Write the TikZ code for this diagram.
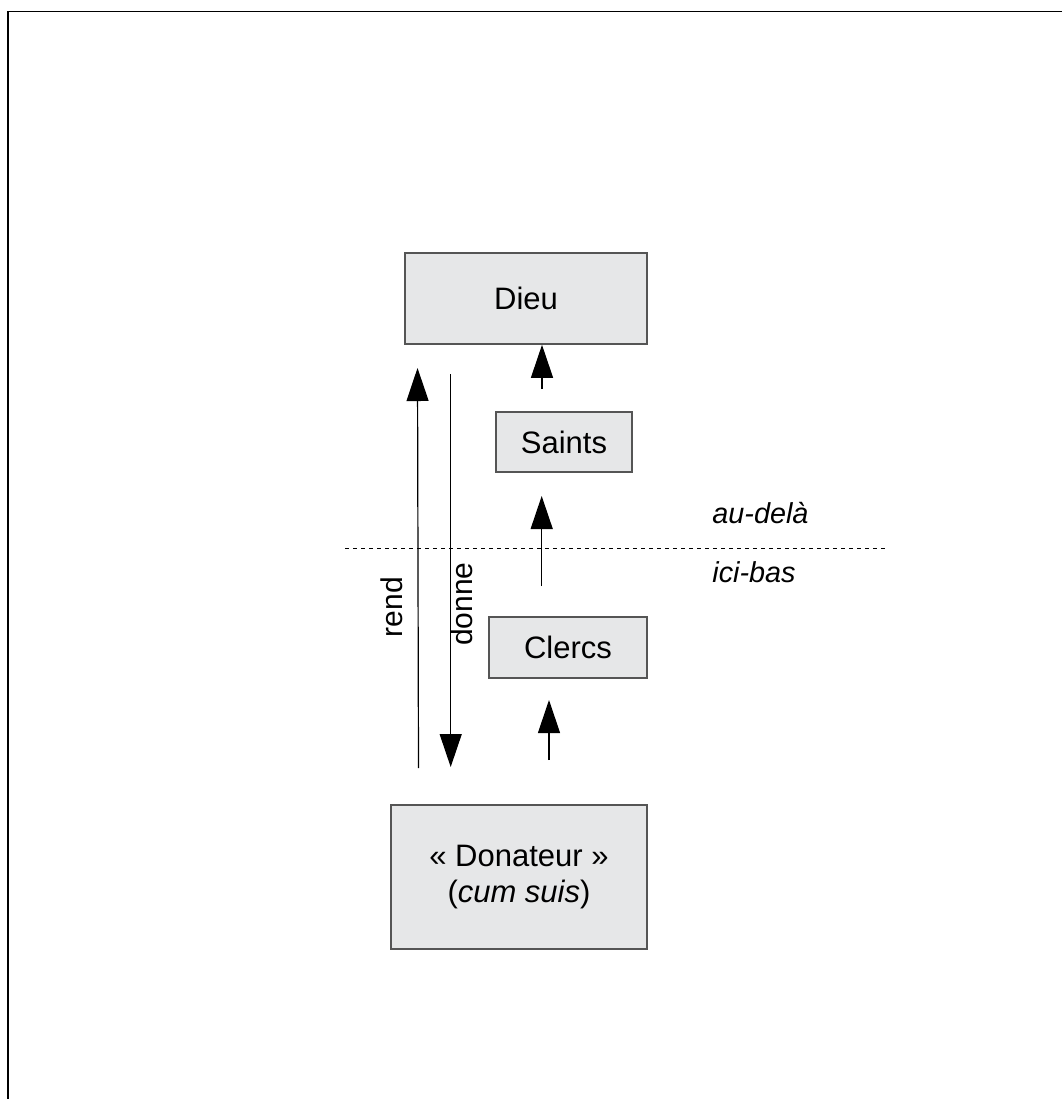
\documentclass[tikz,border=0pt]{standalone}
\usepackage{fontspec}
\setmainfont{Liberation Sans}
\usetikzlibrary{arrows.meta}
\definecolor{boxfill}{RGB}{230,231,232}
\definecolor{boxline}{RGB}{85,85,85}
\begin{document}
\begin{tikzpicture}[x=0.5pt,y=-0.5pt,
  box/.style={draw=boxline,fill=boxfill,line width=0.8pt,inner sep=0pt,
    font=\fontsize{15.5}{18}\selectfont,align=center},
  arr/.style={line width=0.6pt,-{Triangle[width=11pt,length=16.5pt]}},
  lab/.style={font=\fontsize{15}{18}\selectfont,inner sep=0pt},
  zone/.style={font=\fontsize{14.4}{17}\selectfont\itshape,inner sep=0pt,anchor=base west},
  frame/.style={line width=0.6pt}]
\useasboundingbox (0,0) rectangle (1062,1099);
% frame
\coordinate (fa) at (1062,11.7);
\coordinate (fb) at (8,11.7);
\coordinate (fc) at (8,1099);
\draw[frame] (fa) -- (fb) -- (fc);
% boxes
\node[box,minimum width=121pt,minimum height=45.5pt] (dieu) at (526,298.5) {Dieu};
\node[box,minimum width=68pt,minimum height=30pt] (saints) at (564,442) {Saints};
\node[box,minimum width=79pt,minimum height=30.5pt] (clercs) at (568,647.5) {Clercs};
\node[box,minimum width=128pt,minimum height=72pt] (don) at (519,877) {« Donateur »\\(\textit{cum suis})};
% dashed separator
\coordinate (d1) at (345,548.3);
\coordinate (d2) at (887,548.3);
\draw[line width=0.5pt,dash pattern=on 2pt off 2pt] (d1) -- (d2);
\node[zone] (au) at (712,523) {au-delà};
\node[zone] (ici) at (712,582) {ici-bas};
% arrows between boxes
\coordinate (s1) at (542,389);
\draw[arr] (s1) -- (s1 |- dieu.south);
\coordinate (c1) at (541.7,586);
\coordinate (c2) at (541.7,496);
\draw[arr] (c1) -- (c2);
\coordinate (b1) at (549,760);
\coordinate (b2) at (549,700);
\draw[arr] (b1) -- (b2);
% rend / donne
\coordinate (r1) at (418.5,768);
\coordinate (r2) at (417.5,368);
\draw[arr] (r1) -- (r2);
\coordinate (g1) at (450.7,374);
\coordinate (g2) at (450.7,767);
\draw[arr] (g1) -- (g2);
\node[lab,rotate=90] (rend) at (392,607) {rend};
\node[lab,rotate=90] (donne) at (462,604) {donne};
\end{tikzpicture}
\end{document}
